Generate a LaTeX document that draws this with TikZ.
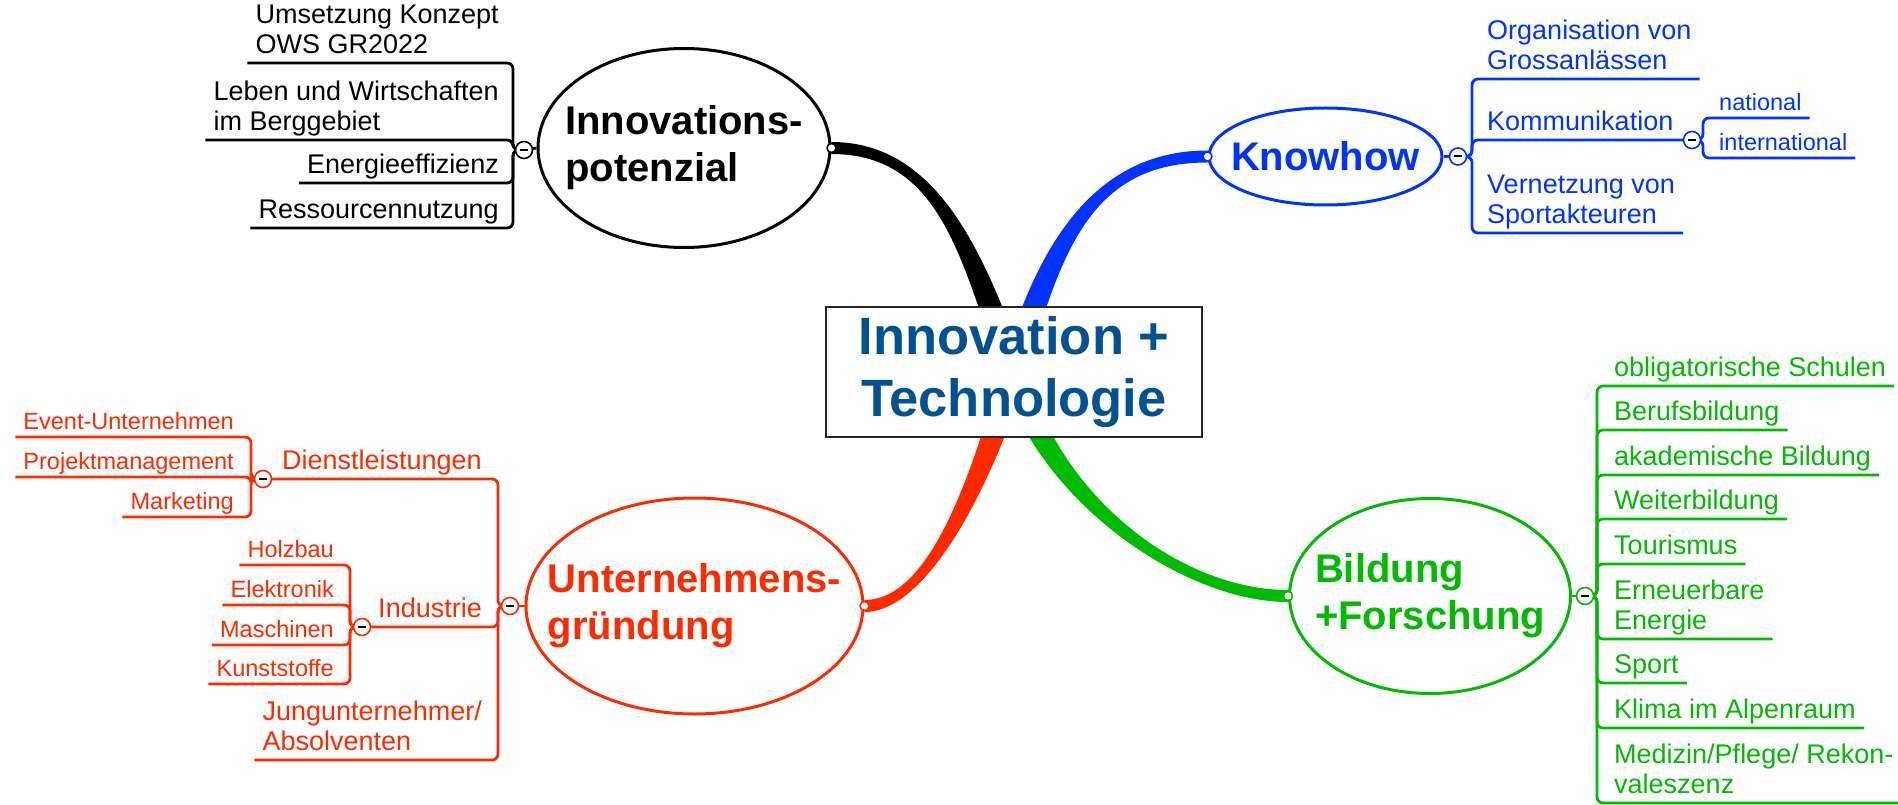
\documentclass[tikz,border=0pt]{standalone}
\usepackage{fontspec}
\setmainfont{Liberation Sans}
\usetikzlibrary{shapes.geometric,calc,backgrounds}
\definecolor{hubblue}{RGB}{0,82,147}
\definecolor{knowblue}{RGB}{0,51,255}
\definecolor{untred}{RGB}{255,42,0}
\definecolor{bildgreen}{RGB}{0,187,0}
\newcommand{\hubfont}{\fontsize{52.5}{62}\selectfont\bfseries}
\newcommand{\topicfont}{\fontsize{40}{47}\selectfont\bfseries}
\newcommand{\subfont}{\fontsize{27}{30}\selectfont}
\newcommand{\leaffont}{\fontsize{23.5}{25}\selectfont}

\begin{document}
\begin{tikzpicture}[
    x=1pt, y=-1pt,
    hub/.style={rectangle, draw=black!85, line width=1.5pt, fill=white, minimum width=376pt, minimum height=130pt, align=center, text=hubblue, font=\hubfont},
    topic/.style={ellipse, draw, line width=3pt, fill=white, inner sep=0pt},
    topictext/.style={align=left, inner sep=0pt, font=\topicfont},
    leafL/.style={anchor=south east, inner xsep=8pt, inner ysep=0pt, align=left, font=\subfont, execute at end node=\strut},
    leafR/.style={leafL, anchor=south west},
    small/.style={font=\leaffont},
    twig/.style={line width=2.8pt, rounded corners=6pt},
    collapse/.style={circle, draw, fill=white, text=black, line width=1.6pt, minimum size=17pt, inner sep=0pt, node contents={\rule{8pt}{2pt}}},
    enddot/.style={circle, draw, fill=white, line width=1.5pt, minimum size=9pt, inner sep=0pt}
]
\useasboundingbox (0,0) rectangle (1898,805);

\node[hub] (ctr) at (1014,372) {Innovation +\\Technologie};

\node[topic, draw=black, minimum width=292pt, minimum height=199pt] (inno) at (684,148) {};
\node[topictext] (inno-t) at (inno) {Innovations-\\potenzial};
\node[leafL] (umsetz) at (507,63) {Umsetzung Konzept\\OWS GR2022};
\node[leafL] (leben) at (507,140) {Leben und Wirtschaften\\im Berggebiet};
\node[leafL] (energie) at (507,183) {Energieeffizienz};
\node[leafL] (ressourcen) at (507,228) {Ressourcennutzung};
\coordinate (inno-m) at (524,150);
\draw[twig] (inno.west) -- (inno-m);
\foreach \n in {umsetz,leben,energie,ressourcen}
    \draw[twig] (inno-m) -- ++(-11,0) |- (\n.south west);
\node (inno-c) at (inno-m) [collapse];

\begin{scope}[color=knowblue]
\node[topic, minimum width=233pt, minimum height=97pt] (know) at (1325.5,156.5) {};
\node[topictext] (know-t) at (know) {Knowhow};
\node[leafR] (orga) at (1479,79) {Organisation von\\Grossanlässen};
\node[leafR] (kommu) at (1479,140) {Kommunikation};
\node[leafR] (vernetz) at (1479,233) {Vernetzung von\\Sportakteuren};
\node[leafR, small] (national) at (1711,118) {national};
\node[leafR, small] (internat) at (1711,158) {international};
\coordinate (know-m) at (1458,156.5);
\coordinate (kommu-m) at (1692,140);
\draw[twig] (know.east) -- (know-m);
\foreach \t in {orga.south east,kommu-m,vernetz.south east}
    \draw[twig] (know-m) -- ++(14,0) |- (\t);
\foreach \n in {national,internat}
    \draw[twig] (kommu-m) -- ++(11,0) |- (\n.south east);
\node (know-c) at (know-m) [collapse];
\node (kommu-c) at (kommu-m) [collapse];
\end{scope}

\begin{scope}[color=untred]
\node[topic, minimum width=337pt, minimum height=216pt] (unt) at (694.5,606) {};
\node[topictext] (unt-t) at (unt) {Unternehmens-\\gründung};
\node[leafL] (dienst) at (490,479) {Dienstleistungen};
\node[leafL] (indus) at (490,627) {Industrie};
\node[leafL] (jung) at (490,760) {Jungunternehmer/\\Absolventen};
\node[leafL, small] (event) at (242,437) {Event-Unternehmen};
\node[leafL, small] (projekt) at (242,477) {Projektmanagement};
\node[leafL, small] (marketing) at (242,517) {Marketing};
\node[leafL, small] (holzbau) at (342,565) {Holzbau};
\node[leafL, small] (elektronik) at (342,605) {Elektronik};
\node[leafL, small] (maschinen) at (342,645) {Maschinen};
\node[leafL, small] (kunststoffe) at (342,684) {Kunststoffe};
\coordinate (unt-m) at (510,606);
\coordinate (dienst-m) at (263,479);
\coordinate (indus-m) at (362,627);
\draw[twig] (unt.west) -- (unt-m);
\foreach \t in {dienst-m,indus-m,jung.south west}
    \draw[twig] (unt-m) -- ++(-12,0) |- (\t);
\foreach \n in {event,projekt,marketing}
    \draw[twig] (dienst-m) -- ++(-12,0) |- (\n.south west);
\foreach \n in {holzbau,elektronik,maschinen,kunststoffe}
    \draw[twig] (indus-m) -- ++(-12,0) |- (\n.south west);
\node (unt-c) at (unt-m) [collapse];
\node (dienst-c) at (dienst-m) [collapse];
\node (indus-c) at (indus-m) [collapse];
\end{scope}

\begin{scope}[color=bildgreen]
\node[topic, minimum width=281pt, minimum height=195pt] (bild) at (1430,596) {};
\node[topictext] (bild-t) at (bild) {Bildung\\+Forschung};
\node[leafR] (oblig) at (1606,386) {obligatorische Schulen};
\node[leafR] (berufs) at (1606,430) {Berufsbildung};
\node[leafR] (akadem) at (1606,475) {akademische Bildung};
\node[leafR] (weiter) at (1606,519) {Weiterbildung};
\node[leafR] (touris) at (1606,564) {Tourismus};
\node[leafR] (erneuer) at (1606,639) {Erneuerbare\\Energie};
\node[leafR] (sport) at (1606,683) {Sport};
\node[leafR] (klima) at (1606,728) {Klima im Alpenraum};
\node[leafR] (medizin) at (1606,803) {Medizin/Pflege/ Rekon-\\valeszenz};
\coordinate (bild-m) at (1585,596);
\draw[twig] (bild.east) -- (bild-m);
\foreach \n in {oblig,berufs,akadem,weiter,touris,erneuer,sport,klima,medizin}
    \draw[twig] (bild-m) -- ++(12,0) |- (\n.south east);
\node (bild-c) at (bild-m) [collapse];
\end{scope}

\begin{scope}[on background layer]
\fill[black] ($(ctr.center)+(-13,0)$) .. controls +(-40,-110) and +(110,0) .. ($(inno.east)+(0,6)$)
    -- ($(inno.east)+(0,-6)$) .. controls +(110,0) and +(-40,-110) .. ($(ctr.center)+(13,0)$) -- cycle;
\fill[knowblue] ($(ctr.center)+(13,0)$) .. controls +(36,-132) and +(-110,0) .. ($(know.west)+(0,6)$)
    -- ($(know.west)+(0,-6)$) .. controls +(-110,0) and +(36,-132) .. ($(ctr.center)+(-13,0)$) -- cycle;
\fill[untred] ($(ctr.center)+(-13,0)$) .. controls +(-29,98) and +(67,0) .. ($(unt.east)+(0,-6)$)
    -- ($(unt.east)+(0,6)$) .. controls +(67,0) and +(-29,98) .. ($(ctr.center)+(13,0)$) -- cycle;
\fill[bildgreen] ($(ctr.center)+(13,0)$) .. controls +(35,128) and +(-105,0) .. ($(bild.west)+(0,-6)$)
    -- ($(bild.west)+(0,6)$) .. controls +(-105,0) and +(35,128) .. ($(ctr.center)+(-13,0)$) -- cycle;
\end{scope}
\node[enddot, draw=black] (inno-d) at (inno.east) {};
\node[enddot, draw=knowblue] (know-d) at (know.west) {};
\node[enddot, draw=untred] (unt-d) at (unt.east) {};
\node[enddot, draw=bildgreen] (bild-d) at (bild.west) {};
\end{tikzpicture}
\end{document}
